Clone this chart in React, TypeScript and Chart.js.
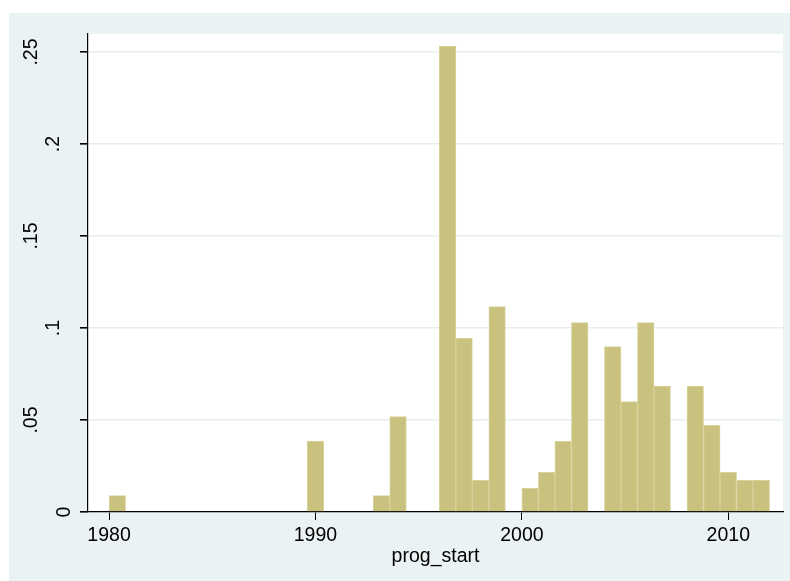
import React, { useEffect, useRef } from 'react';
import { Chart, registerables } from 'chart.js';

Chart.register(...registerables);

// Histogram bins: 40 bins of width 0.8 starting at 1980
const binStart = 1980;
const binWidth = 0.8;
const densities = [
  0.0089, 0, 0, 0, 0, 0, 0, 0, 0, 0,
  0, 0, 0.0386, 0, 0, 0, 0.0089, 0.0518, 0, 0,
  0.2533, 0.0944, 0.0172, 0.1116, 0, 0.0129, 0.0216, 0.0384, 0.1029, 0,
  0.0899, 0.0600, 0.1029, 0.0685, 0, 0.0685, 0.0471, 0.0216, 0.0172, 0.0172,
];
const xTicks = [1980, 1990, 2000, 2010];
const yTicks = [0, 0.05, 0.1, 0.15, 0.2, 0.25];
const yTickLabels = ['0', '.05', '.1', '.15', '.2', '.25'];
const xTitle = 'prog_start';

const FAMILY = "'Liberation Sans', Arial, Helvetica, sans-serif";
const FONT_SIZE = 19.5;

const plotBgPlugin = {
  id: 'plotBg',
  beforeDraw(chart: any) {
    const { ctx, chartArea } = chart;
    ctx.save();
    ctx.fillStyle = '#ffffff';
    ctx.fillRect(chartArea.left, chartArea.top, chartArea.right - chartArea.left, chartArea.bottom - chartArea.top);
    ctx.restore();
  },
};

const yLabelPlugin = {
  id: 'stataYLabels',
  afterDraw(chart: any) {
    const ys = chart.scales.y;
    const ctx = chart.ctx;
    ctx.save();
    ctx.font = `${FONT_SIZE}px ${FAMILY}`;
    ctx.fillStyle = '#000000';
    ctx.textAlign = 'center';
    ctx.textBaseline = 'middle';
    yTicks.forEach((v, i) => {
      const label = yTickLabels[i];
      const w = ctx.measureText(label).width;
      const cx = 78 - 2.03 * w;
      const cy = ys.getPixelForValue(v);
      ctx.save();
      ctx.translate(cx, cy);
      ctx.rotate(-Math.PI / 2);
      ctx.fillText(label, 0, 0);
      ctx.restore();
    });
    ctx.restore();
  },
};

export default function App() {
  const ref = useRef<HTMLCanvasElement | null>(null);

  useEffect(() => {
    if (!ref.current) return;
    const chart = new Chart(ref.current, {
      type: 'bar',
      data: {
        datasets: [
          {
            data: densities.map((d, k) => ({ x: binStart + binWidth * (k + 0.5), y: d })),
            backgroundColor: '#c9c27f',
            borderColor: '#d8d39c',
            borderWidth: 1,
            categoryPercentage: 1,
            barPercentage: 1,
          } as any,
        ],
      },
      options: {
        responsive: false,
        animation: false,
        layout: { padding: { top: 21, right: 7, left: 0, bottom: 0 } },
        plugins: { legend: { display: false }, tooltip: { enabled: false } },
        scales: {
          x: {
            type: 'linear',
            offset: false,
            min: 1978.98,
            max: 2012.65,
            afterBuildTicks: (s: any) => {
              s.ticks = xTicks.map((v) => ({ value: v }));
            },
            afterFit: (s: any) => {
              s.height = 69;
            },
            grid: { offset: false, drawOnChartArea: false, tickColor: '#000000', tickLength: 8, lineWidth: 1 },
            border: { display: true, color: '#000000', width: 1.2 },
            ticks: {
              color: '#000000',
              padding: 4,
              font: { family: FAMILY, size: FONT_SIZE },
              callback: (v: any) => String(v),
              maxRotation: 0,
              autoSkip: false,
            },
            title: {
              display: true,
              text: xTitle,
              color: '#000000',
              font: { family: FAMILY, size: FONT_SIZE },
              padding: { top: 0, bottom: 13 },
            },
          },
          y: {
            type: 'linear',
            min: 0,
            max: 0.2598,
            afterBuildTicks: (s: any) => {
              s.ticks = yTicks.map((v) => ({ value: v }));
            },
            afterFit: (s: any) => {
              s.width = 79;
            },
            grid: { color: '#e6eef0', lineWidth: 1.6, tickColor: '#000000', tickLength: 8 },
            border: { display: true, color: '#000000', width: 1.2 },
            ticks: { display: false },
          },
        },
      },
      plugins: [plotBgPlugin, yLabelPlugin],
    } as any);
    return () => chart.destroy();
  }, []);

  return (
    <div style={{ position: 'absolute', left: 9, top: 13, width: 781, height: 568, background: '#eaf2f3' }}>
      <canvas ref={ref} width={781} height={568} style={{ display: 'block', width: 781, height: 568 }} />
    </div>
  );
}
